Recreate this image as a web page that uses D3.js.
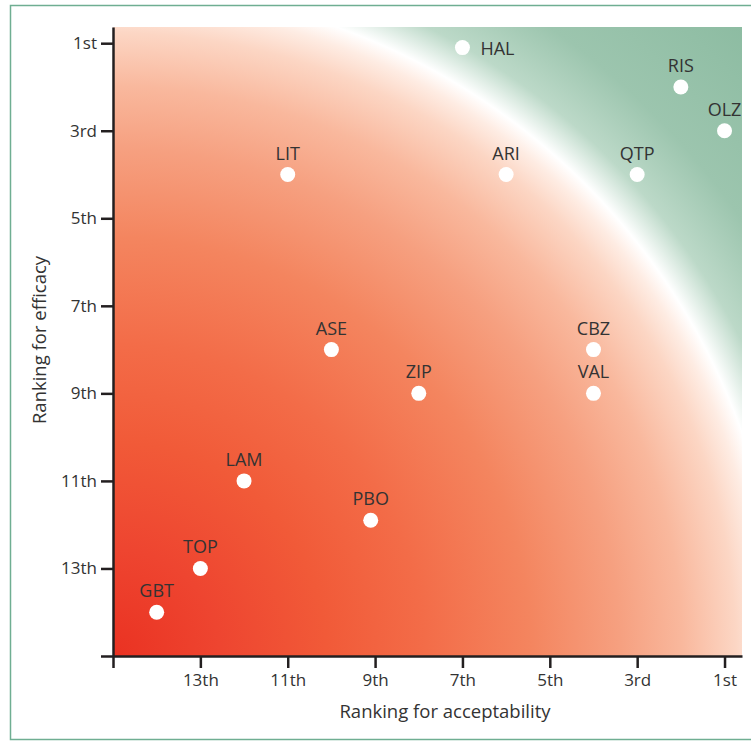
<!DOCTYPE html>
<html>
<head>
<meta charset="utf-8">
<script src="https://cdn.jsdelivr.net/npm/d3@7"></script>
<style>
  body { margin: 0; background: #fff; }
  text { font-family: "Open Sans", "Noto Sans", sans-serif; fill: #333; }
  .axis path, .axis line { stroke: #231f20; stroke-width: 2.5; }
  .axis text { font-size: 17px; fill: #333; }
</style>
</head>
<body>
<div id="chart"></div>
<script>
// drugs and their rankings (1 = best)
const drugs = ['HAL', 'RIS', 'OLZ', 'QTP', 'ARI', 'LIT', 'ASE', 'ZIP', 'CBZ', 'VAL', 'LAM', 'PBO', 'TOP', 'GBT'];
const acceptability = [7, 2, 1, 3, 6, 11, 10, 8, 4, 4, 12, 9.1, 13, 14];
const efficacy = [1.1, 2, 3, 4, 4, 4, 8, 9, 8, 9, 11, 11.9, 13, 14];
const rankTicks = [1, 3, 5, 7, 9, 11, 13, 15];
const rankLabels = ['1st', '3rd', '5th', '7th', '9th', '11th', '13th', ''];

const width = 751, height = 741;
const margin = {left: 113, top: 27, right: 9, bottom: 85};

const svg = d3.select('#chart').append('svg')
    .attr('width', width)
    .attr('height', height);

// green frame
svg.append('rect')
    .attr('x', 10.5).attr('y', 5.5)
    .attr('width', 760).attr('height', 734)
    .attr('fill', 'none')
    .attr('stroke', '#6fae92')
    .attr('stroke-width', 1.5);

const x = d3.scaleLinear().domain([15, 0.6]).range([margin.left, width - margin.right]);
const y = d3.scaleLinear().domain([15, 0.63]).range([height - margin.bottom, margin.top]);

// radial background, red at worst corner through white to green
const defs = svg.append('defs');
const cx = x(15), cy = y(15);
const grad = defs.append('radialGradient')
    .attr('id', 'bg')
    .attr('gradientUnits', 'userSpaceOnUse')
    .attr('cx', cx).attr('cy', cy).attr('fx', cx).attr('fy', cy)
    .attr('r', 890);
const stops = [
    [0, '#ea3222'], [0.12, '#ee4530'], [0.24, '#f15a38'], [0.35, '#f36c48'],
    [0.47, '#f4855f'], [0.57, '#f6a080'], [0.64, '#f9b89d'], [0.70, '#fcd6c4'],
    [0.73, '#feece3'], [0.75, '#ffffff'], [0.79, '#bcd9c8'], [0.86, '#9cc5ae'],
    [1, '#8dbca2']
];
grad.selectAll('stop').data(stops).join('stop')
    .attr('offset', d => d[0])
    .attr('stop-color', d => d[1]);

svg.append('rect')
    .attr('x', x.range()[0]).attr('y', y.range()[1])
    .attr('width', x.range()[1] - x.range()[0])
    .attr('height', y.range()[0] - y.range()[1])
    .attr('fill', 'url(#bg)');

// axes
const fmt = d => rankLabels[rankTicks.indexOf(d)];
svg.append('g').classed('axis', true)
    .attr('transform', `translate(0,${y(15)})`)
    .call(d3.axisBottom(x).tickValues(rankTicks).tickFormat(fmt).tickSize(12).tickSizeOuter(0).tickPadding(6));
svg.append('g').classed('axis', true)
    .attr('transform', `translate(${x(15)},0)`)
    .call(d3.axisLeft(y).tickValues(rankTicks).tickFormat(fmt).tickSize(12).tickSizeOuter(0).tickPadding(4));

svg.append('text')
    .attr('x', 445).attr('y', 718)
    .attr('text-anchor', 'middle')
    .attr('font-size', 18.5)
    .text('Ranking for acceptability');
svg.append('text')
    .attr('transform', `translate(46,${340}) rotate(-90)`)
    .attr('text-anchor', 'middle')
    .attr('font-size', 18.5)
    .text('Ranking for efficacy');

// points
const pts = svg.append('g').selectAll('g')
    .data(drugs.map((d, i) => ({name: d, acc: acceptability[i], eff: efficacy[i]})))
    .join('g')
    .attr('transform', d => `translate(${x(d.acc)},${y(d.eff)})`);
pts.append('circle')
    .attr('r', 7.5)
    .attr('fill', '#fff');
pts.append('text')
    .attr('font-size', 18)
    .attr('text-anchor', d => d.name === 'HAL' ? 'start' : 'middle')
    .attr('x', d => d.name === 'HAL' ? 18 : 0)
    .attr('y', d => d.name === 'HAL' ? 7 : -15)
    .text(d => d.name);
</script>
</body>
</html>
